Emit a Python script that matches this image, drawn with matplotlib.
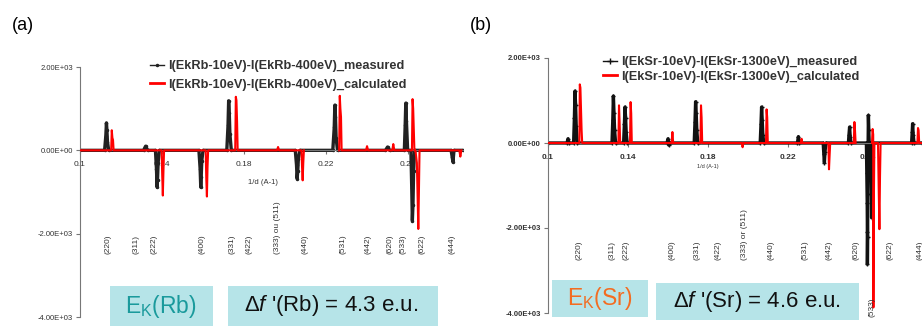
import matplotlib
matplotlib.use("Agg")
import matplotlib.pyplot as plt
from matplotlib.patches import Rectangle

plt.rcParams['font.family'] = ['Liberation Sans', 'DejaVu Sans']
plt.rcParams['mathtext.fontset'] = 'custom'
plt.rcParams['mathtext.rm'] = 'Liberation Sans'
plt.rcParams['mathtext.it'] = 'Liberation Sans:italic'

# ---- panel (a): Rb edge ----
meas_a_x = [0.100, 0.1120, 0.1126, 0.1129, 0.1131, 0.1134, 0.1140, 0.1310, 0.1320, 0.1330,
            0.1368, 0.1373, 0.1376, 0.1378, 0.1381, 0.1387, 0.1580, 0.1586, 0.1589, 0.1591,
            0.1594, 0.1600, 0.1716, 0.1722, 0.1725, 0.1728, 0.1731, 0.1738, 0.2050, 0.2056,
            0.2059, 0.2062, 0.2065, 0.2072, 0.2233, 0.2240, 0.2243, 0.2246, 0.2249, 0.2256,
            0.2490, 0.2500, 0.2510, 0.2582, 0.2586, 0.2589, 0.2592, 0.2598, 0.2614, 0.2618,
            0.2621, 0.2624, 0.2627, 0.2632, 0.2810, 0.2815, 0.2819, 0.2824, 0.2868]
meas_a_y = [0, 0, 350, 658, 500, 200, 0, 0, 100, 0,
            0, -450, -884, -700, -300, 0, 0, -450, -884, -650,
            -250, 0, 0, 600, 1189, 900, 400, 0, 0, -350,
            -680, -500, -200, 0, 0, 550, 1085, 800, 300, 0,
            0, 80, 0, 0, 600, 1133, 700, 0, 0, -900,
            -1687, -1300, -500, 0, 0, -150, -281, 0, 0]

calc_a_x = [0.100, 0.1152, 0.1155, 0.1158, 0.1161, 0.1164, 0.1398, 0.1401, 0.1404, 0.1407,
            0.1410, 0.1613, 0.1616, 0.1619, 0.1622, 0.1625, 0.1757, 0.1760, 0.1763, 0.1766,
            0.1769, 0.1961, 0.1966, 0.1971, 0.2080, 0.2083, 0.2086, 0.2089, 0.2092]
calc_a_y = [0, 0, 482, 300, 250, 0, 0, -600, -1085, -500,
            0, 0, -700, -1109, -400, 0, 0, 1285, 1200, 700,
            0, 0, 80, 0, 0, -400, -720, -300, 0]
calc_a2_x = [0.2264, 0.2267, 0.2270, 0.2273, 0.2276, 0.2395, 0.2400, 0.2405, 0.2523, 0.2528,
             0.2533, 0.2619, 0.2622, 0.2625, 0.2628, 0.2631, 0.2636, 0.2643, 0.2647, 0.2650,
             0.2653, 0.2656, 0.2850, 0.2855, 0.2860]
calc_a2_y = [0, 1309, 1000, 800, 0, 0, 100, 0, 0, 150,
             0, 0, 1229, 1000, 500, 0, 0, -300, -1200, -1887,
             -1000, 0, 0, -150, 0]

hkl_a = ['(220)', '(311)', '(222)', '(400)', '(331)', '(422)', '(333) ou (511)', '(440)',
         '(531)', '(442)', '(620)', '(533)', '(622)', '(444)']
hkl_a_x = [0.1138, 0.1273, 0.1361, 0.1595, 0.1742, 0.1825, 0.1961, 0.2098,
           0.2283, 0.2405, 0.2513, 0.2576, 0.2669, 0.2815]
hkl_a_y = [-2480] * 14

# ---- panel (b): Sr edge ----
meas_b_x = [0.100, 0.1095, 0.1100, 0.1105, 0.1128, 0.1132, 0.1135, 0.1138, 0.1141, 0.1146,
            0.1320, 0.1324, 0.1327, 0.1330, 0.1333, 0.1338, 0.1378, 0.1382, 0.1385, 0.1388,
            0.1391, 0.1396, 0.1595, 0.1600, 0.1605, 0.1610, 0.1731, 0.1735, 0.1738, 0.1741,
            0.1744, 0.1749, 0.2061, 0.2065, 0.2068, 0.2071, 0.2074, 0.2079, 0.2247, 0.2252,
            0.2257, 0.2376, 0.2379, 0.2382, 0.2385, 0.2390, 0.2502, 0.2505, 0.2508, 0.2511,
            0.2515, 0.2592, 0.2594, 0.2596, 0.2597, 0.2597, 0.2598, 0.2599, 0.2600, 0.2602,
            0.2604, 0.2606, 0.2612, 0.2615, 0.2617, 0.2618, 0.2620, 0.2622, 0.2626, 0.2818,
            0.2821, 0.2823, 0.2826, 0.2830, 0.2870]
meas_b_y = [0, 0, 100, 0, 0, 600, 1222, 900, 400, 0,
            0, 550, 1105, 700, 300, 0, 0, 450, 846, 600,
            250, 0, 0, 100, -50, 0, 0, 500, 971, 700,
            300, 0, 0, 450, 846, 550, 200, 0, 0, 150,
            0, 0, -250, -462, -200, 0, 0, 200, 376, 150,
            0, 0, -700, -1400, -2100, -2851, -2200, -1200, -300, 650,
            300, 0, 0, -600, -1200, -1755, -1100, -400, 0, 0,
            250, 454, 200, 0, 0]

calc_b_x = [0.100, 0.1157, 0.1159, 0.1162, 0.1165, 0.1168, 0.1171, 0.1352, 0.1355, 0.1358,
            0.1361, 0.1410, 0.1413, 0.1416, 0.1419, 0.1618, 0.1622, 0.1626, 0.1762, 0.1765,
            0.1768, 0.1771, 0.1969, 0.1973, 0.1977, 0.2090, 0.2093, 0.2096, 0.2099, 0.2264,
            0.2268, 0.2272, 0.2402, 0.2405, 0.2408, 0.2411, 0.2529, 0.2532, 0.2535, 0.2538]
calc_b_y = [0, 0, 1379, 1300, 800, 300, 0, 0, 886, 500,
            0, 0, 963, 700, 0, 0, 258, 0, 0, 886,
            600, 0, 0, -100, 0, 0, 791, 600, 0, 0,
            100, 0, 0, -619, -300, 0, 0, 494, 300, 0]
calc_b2_x = [0.2620, 0.2623, 0.2626, 0.2627, 0.2629, 0.2632, 0.2650, 0.2654, 0.2657, 0.2660,
             0.2663, 0.2847, 0.2850, 0.2853, 0.2856, 0.2870]
calc_b2_y = [0, 329, 200, -3870, -1500, 0, 0, -1200, -2028, -800,
             0, 0, 352, 300, 0, 0]

hkl_b = ['(220)', '(311)', '(222)', '(400)', '(331)', '(422)', '(333) or (511)', '(440)',
         '(531)', '(442)', '(620)', '(533)', '(622)', '(444)']
hkl_b_x = [0.1155, 0.1318, 0.1388, 0.1618, 0.1743, 0.1848, 0.1980, 0.2115,
           0.2285, 0.2405, 0.2538, 0.2618, 0.2710, 0.2860]
hkl_b_y = [-2750] * 11 + [-4100, -2750, -2750]

W, H = 922, 327
fig = plt.figure(figsize=(W / 100, H / 100), dpi=100)


def px(x0, y0, x1, y1):
    # pixel box (top-left origin) -> figure fraction [left, bottom, width, height]
    return [x0 / W, 1 - y1 / H, (x1 - x0) / W, (y1 - y0) / H]


def style_axes(ax, bold):
    wt = 'bold' if bold else 'normal'
    for s in ['top', 'right']:
        ax.spines[s].set_visible(False)
    ax.spines['left'].set_color('#777777')
    ax.spines['bottom'].set_color('#777777')
    ax.spines['bottom'].set_position(('data', 0))
    ax.set_ylim(-4000, 2000)
    ax.set_yticks([-4000, -2000, 0, 2000])
    ax.set_yticklabels(['-4.00E+03', '-2.00E+03', '0.00E+00', '2.00E+03'],
                       fontsize=5.5, fontweight=wt, color='#333333')
    ax.set_xticks([0.1, 0.14, 0.18, 0.22, 0.26])
    ax.set_xticklabels(['0.1', '0.14', '0.18', '0.22', '0.26'], fontsize=6,
                       fontweight=wt, color='#333333')
    ax.tick_params(axis='y', length=3, width=0.8, color='#777777', pad=2)
    ax.tick_params(axis='x', length=3, width=0.8, color='#777777', pad=5)
    ax.patch.set_alpha(0)


# panel (a)
ax1 = fig.add_axes(px(80, 67, 463, 317))
ax1.plot(meas_a_x, meas_a_y, color='#222222', lw=2.4, marker='.', ms=3, zorder=2)
ax1.plot(calc_a_x, calc_a_y, color='red', lw=1.5, zorder=3)
ax1.plot(calc_a2_x, calc_a2_y, color='red', lw=1.5, zorder=3)
ax1.set_xlim(0.1, 0.2868)
style_axes(ax1, False)
ax1.text(0.1893, -770, '1/d (A-1)', fontsize=5.5, color='#333333', ha='center', va='center')
for lab, x, y in zip(hkl_a, hkl_a_x, hkl_a_y):
    ax1.text(x, y, lab, rotation=90, ha='center', va='bottom', fontsize=6, color='#333333')
h_meas = plt.Line2D([], [], color='#222222', lw=1, marker='.', ms=3)
h_calc = plt.Line2D([], [], color='red', lw=2)
ax1.legend([h_meas, h_calc], ['I(EkRb-10eV)-I(EkRb-400eV)_measured',
                              'I(EkRb-10eV)-I(EkRb-400eV)_calculated'],
           loc='upper left', bbox_to_anchor=(0.183, 1.027), frameon=False,
           handlelength=1.1, handletextpad=0.3, borderpad=0, borderaxespad=0,
           labelspacing=0.5, prop={'weight': 'bold', 'size': 9.2}, labelcolor='#333333')

# panel (b)
ax2 = fig.add_axes(px(548, 58, 922, 313))
ax2.plot(meas_b_x, meas_b_y, color='#111111', lw=2.4, marker='+', ms=3, mew=1, zorder=2)
ax2.plot(calc_b_x, calc_b_y, color='red', lw=1.5, zorder=3)
ax2.plot(calc_b2_x, calc_b2_y, color='red', lw=1.5, zorder=3)
ax2.set_xlim(0.1, 0.287)
style_axes(ax2, True)
ax2.text(0.18, -564, '1/d (A-1)', fontsize=4, color='#333333', ha='center', va='center')
for lab, x, y in zip(hkl_b, hkl_b_x, hkl_b_y):
    ax2.text(x, y, lab, rotation=90, ha='center', va='bottom', fontsize=6, color='#333333')
h_meas2 = plt.Line2D([], [], color='#111111', lw=1, marker='+', ms=4)
ax2.legend([h_meas2, h_calc], ['I(EkSr-10eV)-I(EkSr-1300eV)_measured',
                               'I(EkSr-10eV)-I(EkSr-1300eV)_calculated'],
           loc='upper left', bbox_to_anchor=(0.147, 1.007), frameon=False,
           handlelength=1.1, handletextpad=0.3, borderpad=0, borderaxespad=0,
           labelspacing=0.2, prop={'weight': 'bold', 'size': 9.2}, labelcolor='#333333')

# panel letters
fig.text(12 / W, 1 - 26 / H, '(a)', fontsize=13, va='center')
fig.text(470 / W, 1 - 26 / H, '(b)', fontsize=13, va='center')

# coloured boxes
box_col = '#b6e4e8'
boxes = [(110, 286, 213, 326), (228, 286, 438, 326), (552, 280, 648, 317), (656, 283, 859, 320)]
for b in boxes:
    fig.add_artist(Rectangle((b[0] / W, 1 - b[3] / H), (b[2] - b[0]) / W, (b[3] - b[1]) / H,
                             transform=fig.transFigure, facecolor=box_col, edgecolor='none',
                             zorder=5))
fig.text(161 / W, 1 - 306 / H, r'E$_\mathregular{K}$(Rb)', fontsize=16.5, color='#1a9a9c',
         ha='center', va='center', zorder=6)
fig.text(331 / W, 1 - 306 / H, r"Δ$\mathit{f}$ '(Rb) = 4.3 e.u.", fontsize=16, color='#111111',
         ha='center', va='center', zorder=6)
fig.text(600 / W, 1 - 299 / H, r'E$_\mathregular{K}$(Sr)', fontsize=16.5, color='#f36c21',
         ha='center', va='center', zorder=6)
fig.text(757 / W, 1 - 302 / H, r"Δ$\mathit{f}$ '(Sr) = 4.6 e.u.", fontsize=16, color='#111111',
         ha='center', va='center', zorder=6)

fig.savefig('out.png', dpi=100)
